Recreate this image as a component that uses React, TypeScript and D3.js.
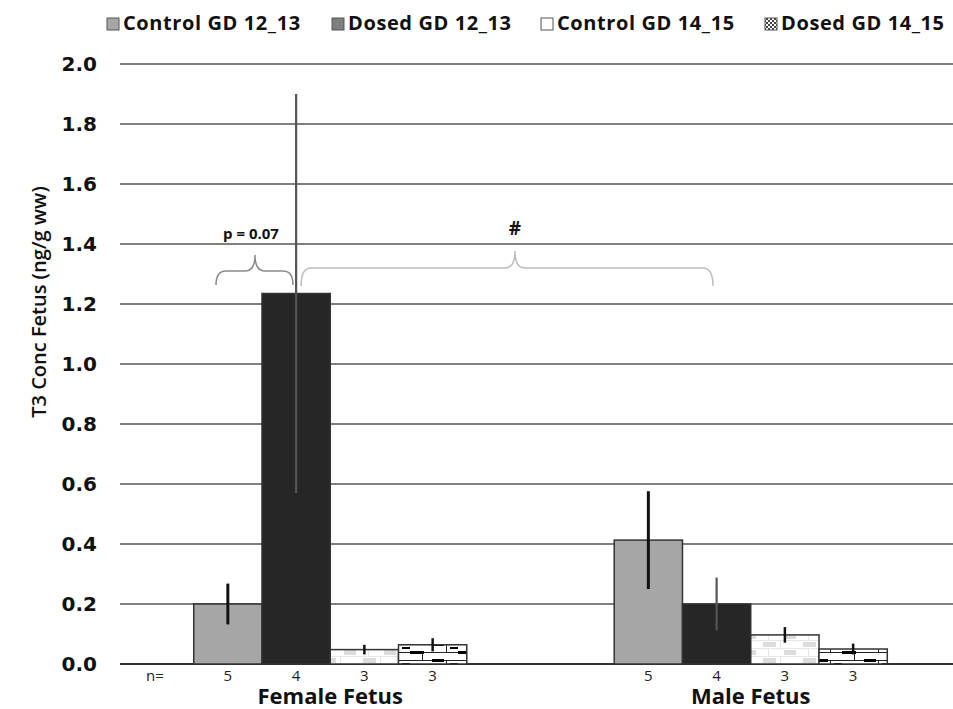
import React from "react";
import * as d3 from "d3";

const categories = ["Female Fetus", "Male Fetus"];
const seriesNames = ["Control GD 12_13", "Dosed GD 12_13", "Control GD 14_15", "Dosed GD 14_15"];
const control1213 = [0.2, 0.413];
const dosed1213 = [1.235, 0.2];
const control1415 = [0.048, 0.097];
const dosed1415 = [0.064, 0.05];
const errControl1213 = [0.068, 0.163];
const errDosed1213 = [0.665, 0.088];
const errControl1415 = [0.016, 0.026];
const errDosed1415 = [0.022, 0.018];
const nCounts = [5, 4, 3, 3];
const yTicks = [0, 0.2, 0.4, 0.6, 0.8, 1.0, 1.2, 1.4, 1.6, 1.8, 2.0];

const values = [control1213, dosed1213, control1415, dosed1415];
const errors = [errControl1213, errDosed1213, errControl1415, errDosed1415];

const W = 953, H = 709;
const y = d3.scaleLinear().domain([0, 2]).range([664, 64]);
const x0 = d3.scaleBand<string>().domain(categories).range([120, 961]).paddingInner(0).paddingOuter(0);
const x1 = d3.scaleBand<string>().domain(seriesNames).range([0, x0.bandwidth()]).paddingInner(0).paddingOuter(1.08);

const fills = ["#a6a6a6", "#262626", "url(#patCtrl)", "url(#patDosed)"];
const legendFills = ["#a6a6a6", "#7f7f7f", "#ffffff", "url(#patLegend)"];
const errColors = ["#111", "#555", "#111", "#111"];
const errWidths = [3, 2.2, 2.5, 2.5];
const legendX = [107, 332, 541, 765];

const sans = "'Open Sans', Lato, sans-serif";

function brace(xl: number, xr: number, xm: number, yEnd: number, yMid: number, yTip: number) {
  const r = 10;
  return `M${xl},${yEnd} Q${xl},${yMid} ${xl + r},${yMid} L${xm - r},${yMid} Q${xm},${yMid} ${xm},${yTip} Q${xm},${yMid} ${xm + r},${yMid} L${xr - r},${yMid} Q${xr},${yMid} ${xr},${yEnd}`;
}

export default function App() {
  return (
    <svg width={W} height={H} style={{ position: "absolute", left: 0, top: 0, background: "#fff" }}>
      <defs>
        <pattern id="patCtrl" width="40" height="16" patternUnits="userSpaceOnUse">
          <rect width="40" height="16" fill="#fff" />
          <rect x="3" y="2" width="13" height="5" fill="#dcdcdc" />
          <rect x="24" y="10" width="12" height="5" fill="#dcdcdc" />
          <line x1="0" y1="0.5" x2="40" y2="0.5" stroke="#e6e6e6" strokeWidth="1" />
          <line x1="0" y1="8.5" x2="40" y2="8.5" stroke="#e6e6e6" strokeWidth="1" />
          <line x1="20.5" y1="0" x2="20.5" y2="8" stroke="#e6e6e6" strokeWidth="1" />
          <line x1="8.5" y1="8" x2="8.5" y2="16" stroke="#e6e6e6" strokeWidth="1" />
        </pattern>
        <pattern id="patDosed" width="48" height="16" patternUnits="userSpaceOnUse">
          <rect width="48" height="16" fill="#fff" />
          <line x1="0" y1="4.5" x2="48" y2="4.5" stroke="#222" strokeWidth="1" />
          <line x1="0" y1="12.5" x2="48" y2="12.5" stroke="#222" strokeWidth="1" />
          <line x1="14.5" y1="4" x2="14.5" y2="12" stroke="#222" strokeWidth="1" />
          <line x1="38.5" y1="12" x2="38.5" y2="16" stroke="#222" strokeWidth="1" />
          <line x1="38.5" y1="0" x2="38.5" y2="4" stroke="#222" strokeWidth="1" />
          <rect x="0" y="3" width="12" height="3" fill="#000" />
          <rect x="26" y="11" width="14" height="3" fill="#000" />
          <rect x="18" y="7" width="8" height="2" fill="#000" />
        </pattern>
        <pattern id="patLegend" width="4" height="4" patternUnits="userSpaceOnUse">
          <rect width="4" height="4" fill="#fff" />
          <rect width="2" height="2" fill="#444" />
          <rect x="2" y="2" width="2" height="2" fill="#444" />
        </pattern>
      </defs>

      {/* Legend */}
      {seriesNames.map((s, i) => (
        <g key={s}>
          <rect x={legendX[i]} y={18} width={12} height={12} fill={legendFills[i]} stroke="#555" strokeWidth={1} />
          <text x={legendX[i] + 16} y={30} fontFamily={sans} fontWeight={700} fontSize={20} letterSpacing={0.6} fill="#111">{s}</text>
        </g>
      ))}

      {/* Gridlines */}
      {yTicks.map((t) => (
        <line key={t} x1={120} x2={W} y1={y(t)} y2={y(t)} stroke={t === 0 ? "#333" : "#555"} strokeWidth={t === 0 ? 2 : 1.6} />
      ))}
      {yTicks.map((t) => (
        <text key={"l" + t} x={97} y={y(t) + 7} textAnchor="end" fontFamily="'DejaVu Sans', Verdana, sans-serif" fontWeight={700} fontSize={20} fill="#111">{t.toFixed(1)}</text>
      ))}

      {/* Y axis title */}
      <text transform={`translate(46,${302}) rotate(-90)`} textAnchor="middle" fontFamily={sans} fontWeight={600} fontSize={20} fill="#111">T3 Conc Fetus (ng/g ww)</text>

      {/* Bars */}
      {categories.map((c, ci) => (
        <g key={c}>
          {seriesNames.map((s, si) => {
            const bx = (x0(c) as number) + (x1(s) as number);
            const v = values[si][ci];
            return (
              <rect key={s} x={bx} y={y(v)} width={x1.bandwidth()} height={y(0) - y(v)} fill={fills[si]} stroke="#333" strokeWidth={1.5} />
            );
          })}
          {seriesNames.map((s, si) => {
            const cx = (x0(c) as number) + (x1(s) as number) + x1.bandwidth() / 2;
            const v = values[si][ci];
            const e = errors[si][ci];
            return (
              <line key={"e" + s} x1={cx} x2={cx} y1={y(v + e)} y2={y(v - e)} stroke={errColors[si]} strokeWidth={errWidths[si]} />
            );
          })}
          {seriesNames.map((s, si) => {
            const cx = (x0(c) as number) + (x1(s) as number) + x1.bandwidth() / 2;
            return (
              <text key={"n" + s} x={cx} y={681} textAnchor="middle" fontFamily={sans} fontSize={15} fill="#222">{nCounts[si]}</text>
            );
          })}
          <text x={(x0(c) as number) + x0.bandwidth() / 2} y={704} textAnchor="middle" fontFamily={sans} fontWeight={700} fontSize={22} fill="#111">{c}</text>
        </g>
      ))}
      <text x={155} y={681} textAnchor="middle" fontFamily={sans} fontSize={15} fill="#222">n=</text>

      {/* Annotations */}
      <path d={brace(216, 293, 255, 285, 271, 255)} fill="none" stroke="#8a8a8a" strokeWidth={1.5} />
      <path d={brace(301, 713, 515, 286, 268, 251)} fill="none" stroke="#bdbdbd" strokeWidth={1.5} />
      <text x={251} y={239} textAnchor="middle" fontFamily={sans} fontWeight={700} fontSize={15} fill="#111">p = 0.07</text>
      <text x={515} y={235} textAnchor="middle" fontFamily={sans} fontWeight={700} fontSize={19} fill="#111">#</text>
    </svg>
  );
}
